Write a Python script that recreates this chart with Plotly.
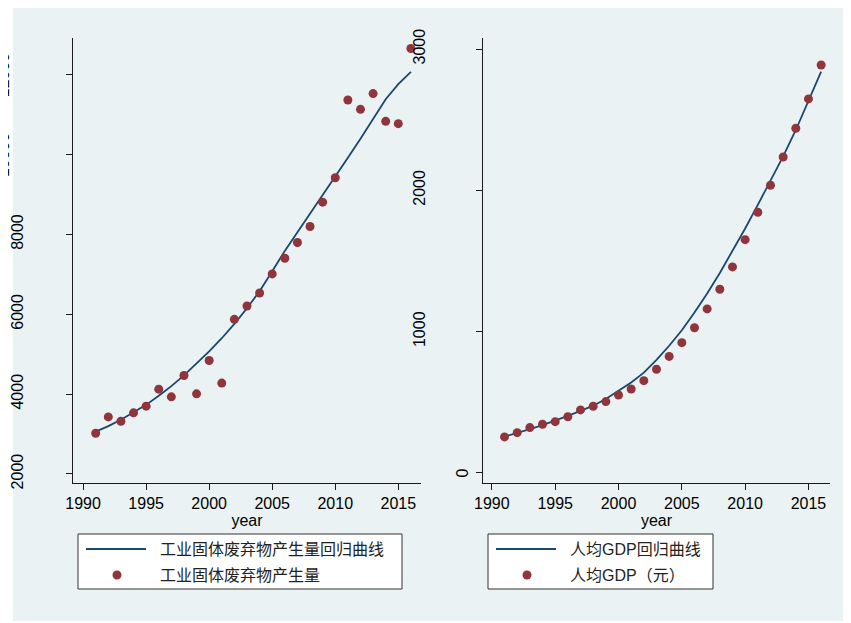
import plotly.graph_objects as go

# ---------------- data ----------------
years = list(range(1991, 2017))
waste_obs = [3021, 3430, 3322, 3531, 3699, 4125, 3932, 4467, 4008, 4843, 4276, 5873, 6208,
             6534, 7011, 7403, 7797, 8198, 8808, 9420, 11368, 11134, 11528, 10833, 10775, 12658]
waste_fit = [3062, 3200, 3360, 3540, 3731, 3960, 4200, 4470, 4760, 5069, 5400, 5760, 6150,
             6580, 7077, 7588, 8056, 8517, 8983, 9446, 9922, 10399, 10883, 11385, 11762, 12070]
gdp_obs = [255, 285, 321, 345, 363, 398, 446, 472, 505, 552, 594, 653, 734,
           825, 922, 1028, 1161, 1300, 1458, 1651, 1845, 2036, 2236, 2439, 2647, 2887]
gdp_fit = [257, 282, 310, 338, 370, 404, 440, 476, 523, 580, 640, 710, 800,
           900, 1010, 1135, 1270, 1415, 1570, 1730, 1897, 2065, 2240, 2427, 2628, 2840]

x_ticks = [1990, 1995, 2000, 2005, 2010, 2015]
left_y_ticks = [2000, 4000, 6000, 8000, 10000, 12000]
left_y_labels = ["2000", "4000", "6000", "8000", "10000", "12000"]
right_y_ticks = [0, 1000, 2000, 3000]
right_y_labels = ["0", "1000", "2000", "3000"]

left_legend = ["工业固体废弃物产生量回归曲线", "工业固体废弃物产生量"]
right_legend = ["人均GDP回归曲线", "人均GDP（元）"]

# ---------------- styling ----------------
W, H = 851, 623
OFF = 8  # page offset of the figure (default body margin)
BG = "#EAF2F3"
NAVY = "#1A476F"
MAROON = "#90353B"
AX = "#1a1a1a"
FONT = "Liberation Sans, Arial, Noto Sans CJK SC, sans-serif"


def px(x):
    return (x - OFF) / W


def py(y):
    return 1 - (y - OFF) / H


fig = go.Figure()

fig.add_trace(go.Scatter(x=years, y=waste_fit, mode="lines", line=dict(color=NAVY, width=1.8),
                         xaxis="x", yaxis="y", showlegend=False))
fig.add_trace(go.Scatter(x=years, y=waste_obs, mode="markers", marker=dict(color=MAROON, size=9),
                         xaxis="x", yaxis="y", showlegend=False))
fig.add_trace(go.Scatter(x=years, y=gdp_fit, mode="lines", line=dict(color=NAVY, width=1.8),
                         xaxis="x2", yaxis="y2", showlegend=False))
fig.add_trace(go.Scatter(x=years, y=gdp_obs, mode="markers", marker=dict(color=MAROON, size=9),
                         xaxis="x2", yaxis="y2", showlegend=False))

tickfont = dict(family=FONT, size=16, color="#000")
common_x = dict(tickmode="array", tickvals=x_ticks, ticks="outside", ticklen=6, tickcolor=AX,
                showline=True, linecolor=AX, linewidth=1, showgrid=False, zeroline=False,
                automargin=False,
                tickfont=tickfont, title=dict(text="year", font=tickfont, standoff=1))
common_y = dict(tickmode="array", ticks="outside", ticklen=6, tickcolor=AX, tickangle=-90,
                showline=True, linecolor=AX, linewidth=1, showgrid=True, gridcolor=BG,
                automargin=False,
                gridwidth=1, zeroline=False, tickfont=tickfont)

fig.update_layout(
    width=W, height=H, autosize=False,
    margin=dict(l=0, r=0, t=0, b=0, pad=0, autoexpand=False),
    paper_bgcolor="white", plot_bgcolor="white",
    xaxis=dict(domain=[px(73), px(421)], range=[1989.2, 2016.8], anchor="y", **common_x),
    yaxis=dict(domain=[py(483), py(38)], range=[1774, 12920], anchor="x",
               tickvals=left_y_ticks, ticktext=left_y_labels[:4] + ["", ""],
               ticklabelstandoff=37, **common_y),
    xaxis2=dict(domain=[px(483), px(830)], range=[1989.3, 2016.7], anchor="y2", **common_x),
    yaxis2=dict(domain=[py(483), py(38)], range=[-71, 3078], anchor="x2",
                tickvals=right_y_ticks, ticktext=[""] + right_y_labels[1:],
                ticklabelstandoff=45, **common_y),
    showlegend=False,
)

shapes = [
    # outer graph region
    dict(type="rect", xref="paper", yref="paper", x0=px(13), x1=px(860), y0=py(621), y1=py(8),
         fillcolor=BG, line=dict(width=0), layer="below"),
]
annotations = []

# displaced tick labels as in the reference (mostly cut off at the left edge)
for v, t in zip(left_y_ticks[4:], left_y_labels[4:]):
    annotations.append(dict(xref="paper", yref="y", x=px(14), y=v, text=t, textangle=-90,
                            showarrow=False, xanchor="right", yanchor="middle", font=tickfont))
annotations.append(dict(xref="paper", yref="y2", x=px(473), y=right_y_ticks[0],
                        text=right_y_labels[0], textangle=-90, showarrow=False,
                        xanchor="right", yanchor="middle", font=tickfont))

# legends (drawn manually to mimic Stata legend boxes)
legfont = dict(family=FONT, size=16, color="#222")
for (bx0, bx1, labels) in [(78, 402, left_legend), (488, 713, right_legend)]:
    shapes.append(dict(type="rect", xref="paper", yref="paper", x0=px(bx0), x1=px(bx1),
                       y0=py(589), y1=py(534), fillcolor="white",
                       line=dict(color="#333", width=1)))
    shapes.append(dict(type="line", xref="paper", yref="paper", x0=px(bx0 + 8), x1=px(bx0 + 68),
                       y0=py(549), y1=py(549), line=dict(color=NAVY, width=1.8)))
    cx = bx0 + 39
    shapes.append(dict(type="circle", xref="paper", yref="paper", x0=px(cx - 4.5), x1=px(cx + 4.5),
                       y0=py(575 + 4.5), y1=py(575 - 4.5), fillcolor=MAROON,
                       line=dict(color=MAROON, width=0)))
    for lab, yy in zip(labels, [549, 575]):
        annotations.append(dict(xref="paper", yref="paper", x=px(bx0 + 80), y=py(yy), text=lab,
                                showarrow=False, xanchor="left", yanchor="middle", font=legfont))

fig.update_layout(shapes=shapes, annotations=annotations)

fig.write_html("out.html")
